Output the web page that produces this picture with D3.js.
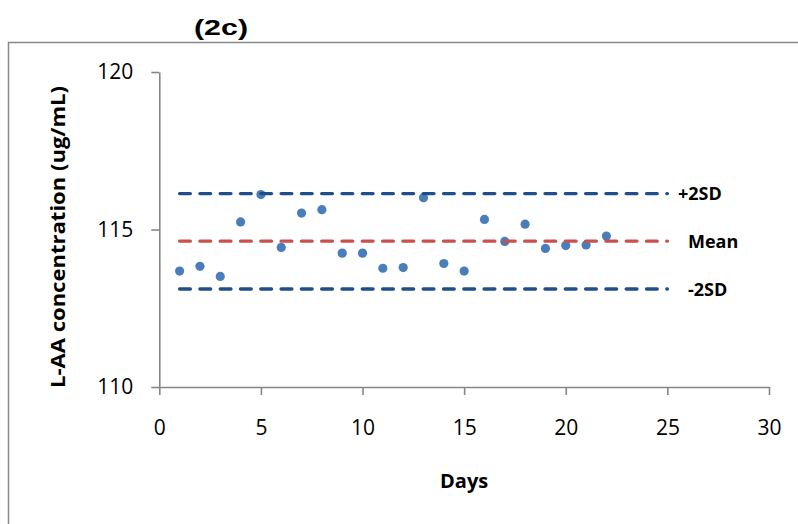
<!DOCTYPE html>
<html>
<head>
<meta charset="utf-8">
<script src="https://cdn.jsdelivr.net/npm/d3@7"></script>
<style>
  html, body { margin: 0; padding: 0; background: #fff; }
  svg { display: block; }
</style>
</head>
<body>
<svg id="chart" width="798" height="524"></svg>
<script>
// ---- Data ----
const days = [1,2,3,4,5,6,7,8,9,10,11,12,13,14,15,16,17,18,19,20,21,22];
const concentrations = [113.68,113.83,113.51,115.24,116.11,114.43,115.52,115.63,114.25,114.25,
  113.77,113.79,116.01,113.92,113.68,115.32,114.62,115.17,114.40,114.49,114.51,114.79];
const limitDays = [1, 25];
const meanValue = 114.63;
const plus2SD = 116.14;
const minus2SD = 113.11;
const xTicks = [0,5,10,15,20,25,30];
const yTicks = [110,115,120];
const limitLabels = ["+2SD", "Mean", "-2SD"];

const svg = d3.select("#chart");
const W = 798, H = 524;

// Outer chart frame (extends off-canvas)
svg.append("rect")
  .attr("x", 8.5).attr("y", 42.5)
  .attr("width", W).attr("height", H)
  .attr("fill", "none").attr("stroke", "#888").attr("stroke-width", 1.5);

const x = d3.scaleLinear().domain([0, 30]).range([159.3, 769]);
const y = d3.scaleLinear().domain([110, 120]).range([387, 72]);

const axisColor = "#868686";

// Y axis
const gy = svg.append("g").attr("transform", `translate(${x(0)},0)`)
  .call(d3.axisLeft(y).tickValues(yTicks).tickSize(8).tickSizeOuter(0).tickPadding(18).tickFormat(d3.format("d")));
// X axis
const gx = svg.append("g").attr("transform", `translate(0,${y(110)})`)
  .call(d3.axisBottom(x).tickValues(xTicks).tickSize(8).tickSizeOuter(0).tickPadding(25).tickFormat(d3.format("d")));

[gx, gy].forEach(g => {
  g.select(".domain").attr("stroke", axisColor).attr("stroke-width", 1.6);
  g.selectAll(".tick line").attr("stroke", axisColor).attr("stroke-width", 1.6);
  g.selectAll(".tick text").attr("fill", "#000")
    .style("font-family", "'Open Sans', sans-serif").style("font-size", "21px");
});
gx.selectAll(".tick text").attr("dy", "0.71em");

// Points
svg.append("g").selectAll("circle")
  .data(days.map((d, i) => ({ d, v: concentrations[i] })))
  .join("circle")
  .attr("cx", p => x(p.d)).attr("cy", p => y(p.v))
  .attr("r", 4.6)
  .attr("fill", "#4A7EBB");

// Limit lines (drawn on top of points)
const limits = [
  { v: plus2SD, color: "#1F4E8A", label: limitLabels[0] },
  { v: meanValue, color: "#C9504D", label: limitLabels[1] },
  { v: minus2SD, color: "#1F4E8A", label: limitLabels[2] }
];
const line = d3.line().x(d => x(d[0])).y(d => y(d[1]));
svg.append("g").selectAll("path")
  .data(limits)
  .join("path")
  .attr("d", l => line(limitDays.map(dd => [dd, l.v])))
  .attr("fill", "none")
  .attr("stroke", l => l.color)
  .attr("stroke-width", 3.4)
  .attr("stroke-linecap", "round")
  .attr("stroke-dasharray", "10.7,9.6");

// Limit labels
const labelX = [678, 688, 688];
svg.append("g").selectAll("text")
  .data(limits)
  .join("text")
  .attr("x", (l, i) => labelX[i])
  .attr("y", l => y(l.v))
  .attr("dy", "0.36em")
  .style("font-family", "'Open Sans', sans-serif")
  .style("font-size", "18px")
  .style("font-weight", "bold")
  .attr("fill", "#000")
  .text(l => l.label);

// Title
svg.append("text")
  .attr("x", 221).attr("y", 35)
  .attr("text-anchor", "middle")
  .attr("textLength", 54).attr("lengthAdjust", "spacingAndGlyphs")
  .style("font-family", "'Liberation Sans', Arial, sans-serif")
  .style("font-size", "22px").style("font-weight", "bold")
  .text("(2c)");

// X axis title
svg.append("text")
  .attr("x", (x(0) + x(30)) / 2).attr("y", 488)
  .attr("text-anchor", "middle")
  .style("font-family", "'Open Sans', sans-serif")
  .style("font-size", "20px").style("font-weight", "bold")
  .text("Days");

// Y axis title
svg.append("text")
  .attr("transform", "translate(65,237) rotate(-90)")
  .attr("text-anchor", "middle")
  .attr("textLength", 302).attr("lengthAdjust", "spacingAndGlyphs")
  .style("font-family", "'Open Sans', sans-serif")
  .style("font-size", "20px").style("font-weight", "bold")
  .text("L-AA concentration (ug/mL)");
</script>
</body>
</html>
